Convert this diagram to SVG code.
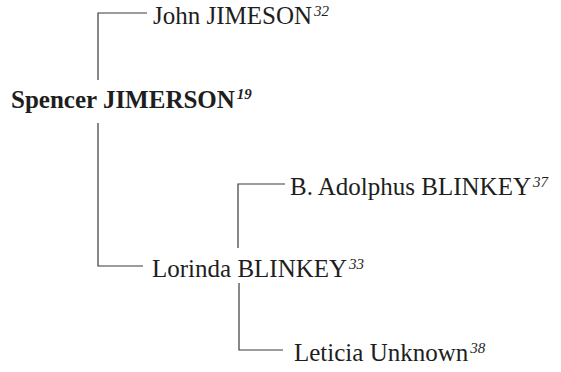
<svg xmlns="http://www.w3.org/2000/svg" width="561" height="372" viewBox="0 0 561 372">
<style>
.t{font-family:"Liberation Serif","Times New Roman",serif;font-size:25px;fill:#1e1e1e}
.b{font-weight:bold}
.s{font-size:15px;font-style:italic}
.c{fill:none;stroke:#3a3a3a;stroke-width:1.2}
</style>
<rect width="561" height="372" fill="#fff"/>
<g id="connectors">
<path class="c" d="M98,80 V13 H147"/>
<path class="c" d="M98,123 V266 H143"/>
<path class="c" d="M238,248 V184 H285"/>
<path class="c" d="M239,283 V350 H283"/>
</g>
<g id="spencer"><text class="t b" x="11" y="108">Spencer JIMERSON<tspan class="s" dx="2" dy="-9">19</tspan></text></g>
<g id="john"><text class="t" x="153" y="24">John JIMESON<tspan class="s" dx="2" dy="-8">32</tspan></text></g>
<g id="lorinda"><text class="t" x="152" y="277">Lorinda BLINKEY<tspan class="s" dx="2" dy="-8">33</tspan></text></g>
<g id="adolphus"><text class="t" x="290" y="195">B. Adolphus BLINKEY<tspan class="s" dx="2" dy="-8">37</tspan></text></g>
<g id="leticia"><text class="t" x="294" y="361">Leticia Unknown<tspan class="s" dx="2" dy="-8">38</tspan></text></g>
</svg>
